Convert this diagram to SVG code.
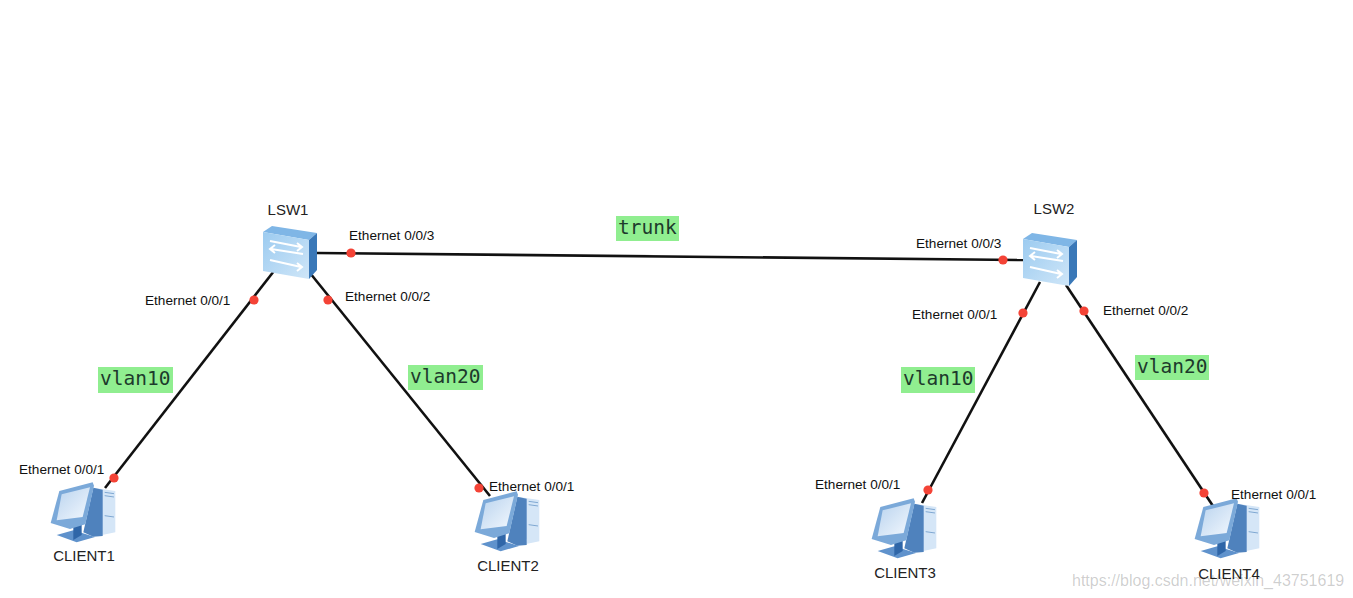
<svg xmlns="http://www.w3.org/2000/svg" width="1353" height="598" viewBox="0 0 1353 598">
<style>
.lbl{font:13.6px "Liberation Sans",Arial,sans-serif;fill:#111}
.name{font:15px "Liberation Sans",Arial,sans-serif;fill:#222}
.tag{font:19.5px "DejaVu Sans Mono",monospace;fill:#1d3a2c}
.tagbg{fill:#90ee90}
.wire{stroke:#111;stroke-width:2.6;fill:none}
.dot{fill:#f44336}
.wm{font:16px "Liberation Sans",Arial,sans-serif;fill:#000;fill-opacity:.2}
</style>
<defs>
<linearGradient id="front" x1="0" y1="0" x2="1" y2="1"><stop offset="0" stop-color="#9ccbf0"/><stop offset="1" stop-color="#cfe6f8"/></linearGradient>
<linearGradient id="screen" x1="0" y1="0" x2="1" y2="1"><stop offset="0" stop-color="#b9d3ee"/><stop offset="1" stop-color="#f3f8fe"/></linearGradient>
<g id="sw">
<polygon points="263,232 272,226 317,233 309,240" fill="#7fb6e6"/>
<polygon points="263,232 309,240 309,279 263,271" fill="url(#front)"/>
<polygon points="309,240 317,233 317,270 309,279" fill="#3a78b8"/>
<g fill="none" stroke="#fff" stroke-width="2">
<path d="M270,241 L301,247 M297,243 L302,247 L297,251"/>
<path d="M303,254 L271,249 M275,245 L270,249 L275,253"/>
<path d="M270,260 L301,267 M297,263 L302,267 L297,271"/>
</g>
</g>
<g id="pc">
<g transform="translate(10,455) scale(.3333)">
<polygon points="250,98 316,108 316,232 262,243 236,240" fill="#d5e6f7"/>
<polygon points="250,98 278,104 278,243 250,245 220,232" fill="#4f82bd"/>
<path d="M284,112 L312,116 M284,122 L312,126 M284,182 L312,186" stroke="#7fa8d2" stroke-width="3" fill="none"/>
<polygon points="140,240 190,226 255,246 200,262" fill="#5f92cc"/>
<polygon points="190,205 215,205 215,240 190,255" fill="#2f66a8"/>
<polygon points="148,108 248,82 252,92 226,208 180,222 122,204" fill="#7ba9d9"/>
<polygon points="155,118 240,97 218,186 140,196" fill="url(#screen)"/>
</g>
</g>
</defs>
<g id="connectors">
<line class="wire" x1="317" y1="253" x2="1023" y2="260"/>
<line class="wire" x1="274" y1="271" x2="105" y2="488"/>
<line class="wire" x1="310" y1="273" x2="490" y2="496"/>
<line class="wire" x1="1040" y1="282" x2="922" y2="503"/>
<line class="wire" x1="1066" y1="285" x2="1213" y2="506"/>
<circle class="dot" cx="351" cy="253" r="4.6"/>
<circle class="dot" cx="1003" cy="260" r="4.6"/>
<circle class="dot" cx="254" cy="300" r="4.6"/>
<circle class="dot" cx="328" cy="300" r="4.6"/>
<circle class="dot" cx="114" cy="478" r="4.6"/>
<circle class="dot" cx="479" cy="488" r="4.6"/>
<circle class="dot" cx="1023" cy="313" r="4.6"/>
<circle class="dot" cx="1084" cy="311" r="4.6"/>
<circle class="dot" cx="928" cy="490" r="4.6"/>
<circle class="dot" cx="1204" cy="493" r="4.6"/>
</g>
<g id="LSW1"><use href="#sw"/><text class="name" x="288" y="215" text-anchor="middle">LSW1</text></g>
<g id="LSW2"><use href="#sw" x="760" y="7"/><text class="name" x="1054" y="214" text-anchor="middle">LSW2</text></g>
<g id="CLIENT1"><use href="#pc"/><text class="name" x="84" y="561" text-anchor="middle">CLIENT1</text></g>
<g id="CLIENT2"><use href="#pc" x="424" y="9"/><text class="name" x="508" y="571" text-anchor="middle">CLIENT2</text></g>
<g id="CLIENT3"><use href="#pc" x="821" y="16"/><text class="name" x="905" y="578" text-anchor="middle">CLIENT3</text></g>
<g id="CLIENT4"><use href="#pc" x="1144" y="16"/><text class="name" x="1229" y="579" text-anchor="middle">CLIENT4</text></g>
<g id="port-labels">
<text class="lbl" x="349" y="240">Ethernet 0/0/3</text>
<text class="lbl" x="345" y="301">Ethernet 0/0/2</text>
<text class="lbl" x="145" y="305">Ethernet 0/0/1</text>
<text class="lbl" x="19" y="474">Ethernet 0/0/1</text>
<text class="lbl" x="489" y="491">Ethernet 0/0/1</text>
<text class="lbl" x="916" y="248">Ethernet 0/0/3</text>
<text class="lbl" x="1103" y="315">Ethernet 0/0/2</text>
<text class="lbl" x="912" y="319">Ethernet 0/0/1</text>
<text class="lbl" x="815" y="489">Ethernet 0/0/1</text>
<text class="lbl" x="1231" y="499">Ethernet 0/0/1</text>
</g>
<g id="tags">
<rect class="tagbg" x="616" y="216" width="63" height="25"/><text class="tag" x="618" y="234">trunk</text>
<rect class="tagbg" x="98" y="367" width="75" height="26"/><text class="tag" x="100" y="385">vlan10</text>
<rect class="tagbg" x="408" y="365" width="75" height="25"/><text class="tag" x="410" y="383">vlan20</text>
<rect class="tagbg" x="901" y="367" width="74" height="26"/><text class="tag" x="903" y="385">vlan10</text>
<rect class="tagbg" x="1135" y="355" width="74" height="25"/><text class="tag" x="1137" y="373">vlan20</text>
</g>
<text class="wm" x="1072" y="586">https://blog.csdn.net/weixin_43751619</text>
</svg>
